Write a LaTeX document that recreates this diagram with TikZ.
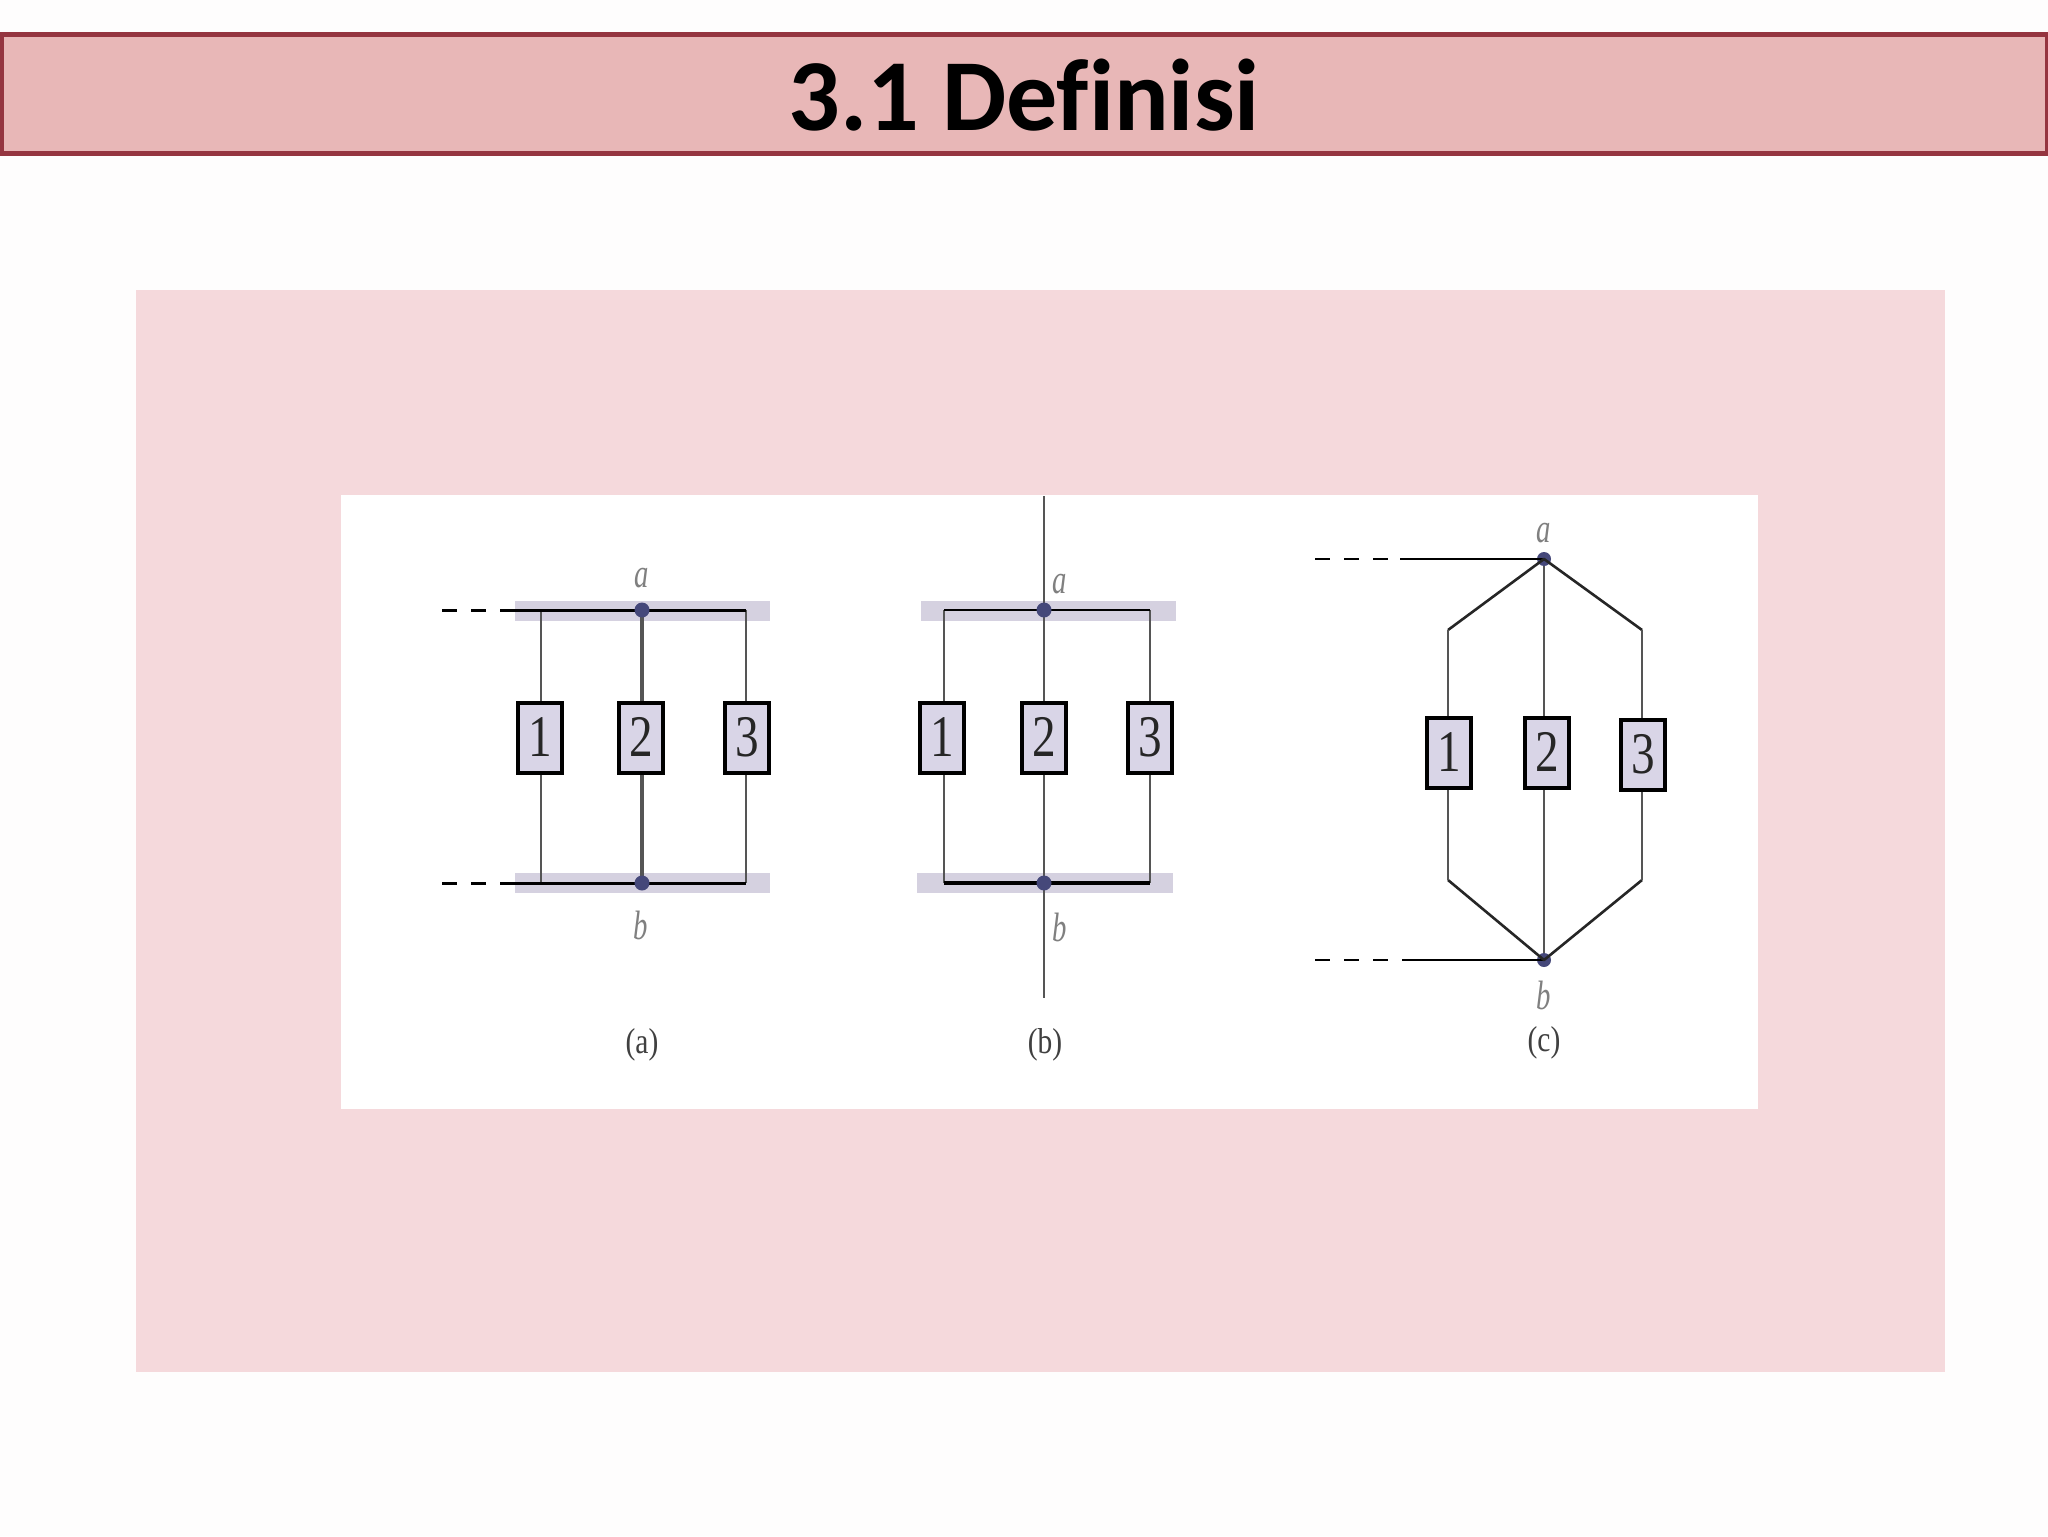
\documentclass[tikz,border=0pt]{standalone}
\usepackage{graphicx}
\usepackage{fontspec}
\setmainfont{Liberation Serif}
\newfontfamily\titlefont[Ligatures=NoCommon]{Carlito}
\definecolor{pagebg}{HTML}{FEFDFD}
\definecolor{headfill}{HTML}{E8B7B7}
\definecolor{headline}{HTML}{953540}
\definecolor{panelpink}{HTML}{F5D9DC}
\definecolor{boxfill}{HTML}{D9D5E7}
\definecolor{railband}{HTML}{D5D1E0}
\definecolor{dotcol}{HTML}{45487A}
\definecolor{wire}{HTML}{555555}
\definecolor{lettergray}{HTML}{808080}
\newcommand{\boxnum}[1]{\raisebox{1pt}{\scalebox{.8}[1]{#1}}}
\tikzset{
  x=0.5pt,y=-0.5pt,
  numbox/.style={draw=black,fill=boxfill,line width=1.6pt,minimum width=22pt,minimum height=35pt,inner sep=0pt,font=\fontsize{29.5}{29.5}\selectfont,text=black!85},
  rail/.style={draw=black,line width=1.5pt},
  wireline/.style={draw=wire,line width=1.4pt},
  diagline/.style={draw=black!85,line width=1.3pt,line join=round},
  dashline/.style={draw=black,line width=1.5pt,dash pattern=on 7.5pt off 7pt},
  joint/.style={circle,fill=dotcol,minimum size=7.5pt,inner sep=0pt},
  nodeletter/.style={text=lettergray,inner sep=0pt,font=\fontsize{20.5}{20.5}\selectfont\itshape},
  caption/.style={text=black!75,inner sep=0pt,font=\fontsize{18}{18}\selectfont},
}
\begin{document}
\begin{tikzpicture}
\useasboundingbox (0,0) rectangle (2048,1536);
\fill[pagebg] (0,0) rectangle (2048,1536);
\node[draw=headline,fill=headfill,line width=2.5pt,minimum width=1023pt,minimum height=59pt,inner sep=0pt] (head) at (1024,94) {};
\node[inner sep=0pt,font=\titlefont\bfseries\fontsize{51}{51}\selectfont] (title) at (1024,95) {3.1 Definisi};
\fill[panelpink] (136,290) rectangle (1945,1372);
\fill[white] (341,495) rectangle (1758,1109);
% panel a
\fill[railband] (515,601) rectangle (770,621);
\fill[railband] (515,873) rectangle (770,893);
\coordinate (atl) at (442,610); \coordinate (ats) at (500,610); \coordinate (atr) at (746,610);
\coordinate (abl) at (442,883); \coordinate (abs) at (500,883); \coordinate (abr) at (746,883);
\coordinate (at1) at (541,610); \coordinate (ab1) at (541,883);
\node[numbox] (a1) at (540,738) {\boxnum{1}};
\node[numbox] (a2) at (641,738) {\boxnum{2}};
\node[numbox] (a3) at (747,738) {\boxnum{3}};
\draw[wireline] (at1) -- (at1 |- a1.north);
\draw[wireline] (ab1) -- (ab1 |- a1.south);
\draw[wireline,line width=1.7pt] (642,610) coordinate (amt) -- (amt |- a2.north);
\draw[wireline,line width=1.7pt] (642,883) coordinate (amb) -- (amb |- a2.south);
\draw[wireline] (atr) -- (atr |- a3.north);
\draw[wireline] (abr) -- (abr |- a3.south);
\draw[dashline] (atl) -- (ats);
\draw[dashline] (abl) -- (abs);
\draw[rail] (ats) -- (atr);
\draw[rail] (abs) -- (abr);
\node[joint] (aa) at (amt) {};
\node[joint] (ab) at (amb) {};
\node[nodeletter] (la) at (642,578) {\scalebox{.7}[1]{a}};
\node[nodeletter] (lb) at (641,925) {\scalebox{.7}[1]{b}};
\node[caption] (ca) at (642,1045) {\scalebox{.82}[1]{(a)}};
% panel b
\fill[railband] (921,601) rectangle (1176,621);
\fill[railband] (917,873) rectangle (1173,893);
\coordinate (btl) at (944,610); \coordinate (btr) at (1150,610);
\coordinate (bbl) at (944,883); \coordinate (bbr) at (1150,883);
\coordinate (btop) at (1044,496); \coordinate (bbot) at (1044,998);
\node[numbox] (b1) at (942,738) {\boxnum{1}};
\node[numbox] (b2) at (1044,738) {\boxnum{2}};
\node[numbox] (b3) at (1150,738) {\boxnum{3}};
\draw[wireline] (btl) -- (btl |- b1.north);
\draw[wireline] (bbl) -- (bbl |- b1.south);
\draw[wireline] (btr) -- (btr |- b3.north);
\draw[wireline] (bbr) -- (bbr |- b3.south);
\draw[wireline] (btop) -- (b2);
\draw[wireline] (b2) -- (bbot);
\draw[rail,line width=1.2pt] (btl) -- (btr);
\draw[rail,line width=1.9pt] (bbl) -- (bbr);
\node[joint] (ba) at (1044,610) {};
\node[joint] (bb) at (1044,883) {};
\node[nodeletter] (lba) at (1060,584) {\scalebox{.7}[1]{a}};
\node[nodeletter] (lbb) at (1060,927) {\scalebox{.7}[1]{b}};
\node[caption] (cb) at (1045,1045) {\scalebox{.82}[1]{(b)}};
% panel c
\coordinate (ctl) at (1315,559); \coordinate (cts) at (1400,559);
\coordinate (cbl) at (1315,960); \coordinate (cbs) at (1403,960);
\coordinate (c1u) at (1448,630); \coordinate (c1d) at (1448,880);
\coordinate (c3u) at (1642,630); \coordinate (c3d) at (1642,880);
\node[numbox] (c1) at (1449,753) {\boxnum{1}};
\node[numbox] (c2) at (1547,753) {\boxnum{2}};
\node[numbox] (c3) at (1643,755) {\boxnum{3}};
\node[joint,minimum size=7pt] (ca1) at (1544,559) {};
\node[joint,minimum size=7pt] (cb1) at (1544,960) {};
\draw[dashline,line width=1.2pt] (ctl) -- (cts);
\draw[dashline,line width=1.2pt] (cbl) -- (cbs);
\draw[draw=black,line width=1.2pt] (cts) -- (ca1.center);
\draw[draw=black,line width=1.2pt] (cbs) -- (cb1.center);
\draw[diagline] (c1u) -- (ca1.center) -- (c3u);
\draw[diagline] (c1d) -- (cb1.center) -- (c3d);
\draw[wireline] (c1u) -- (c1u |- c1.north);
\draw[wireline] (c1d) -- (c1d |- c1.south);
\draw[wireline] (c3u) -- (c3u |- c3.north);
\draw[wireline] (c3d) -- (c3d |- c3.south);
\draw[wireline] (ca1) -- (c2.north -| ca1);
\draw[wireline] (cb1) -- (c2.south -| cb1);
\node[nodeletter] (lca) at (1544,533) {\scalebox{.7}[1]{a}};
\node[nodeletter] (lcb) at (1544,995) {\scalebox{.7}[1]{b}};
\node[caption] (cc) at (1544,1043) {\scalebox{.82}[1]{(c)}};
\end{tikzpicture}
\end{document}
